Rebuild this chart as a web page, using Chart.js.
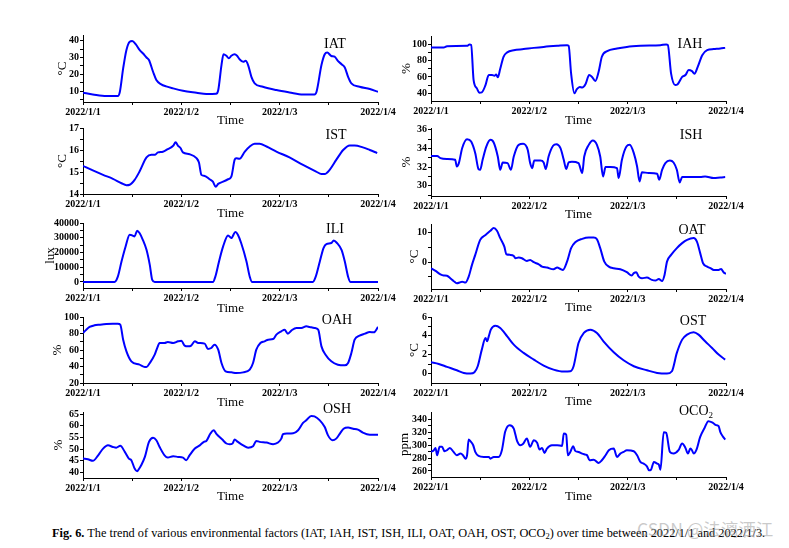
<!DOCTYPE html>
<html><head><meta charset="utf-8">
<script src="https://cdn.jsdelivr.net/npm/chart.js@4.4.0/dist/chart.umd.min.js"></script>
<style>
html,body{margin:0;padding:0;background:#fff;}
body{width:789px;height:548px;position:relative;overflow:hidden;font-family:"Liberation Serif","DejaVu Serif",serif;}
canvas{position:absolute;}
.lbl{position:absolute;font-size:14px;color:#000;transform:translate(-50%,-50%);white-space:nowrap;line-height:1;}
.lbl sub{font-size:9px;vertical-align:-3px;line-height:0;}
#cap{position:absolute;left:52px;top:526px;font-size:12.3px;color:#000;white-space:nowrap;line-height:14px;}
#cap sub{font-size:8.5px;vertical-align:-2px;line-height:0;}
#wm{position:absolute;left:637px;top:520px;font-size:17.5px;color:rgba(150,150,150,0.5);white-space:nowrap;line-height:18px;font-family:"Noto Sans CJK SC","DejaVu Sans",sans-serif;}
</style></head><body>
<script>
// ---------- data ----------
const xTickHours = [0, 12, 24, 36, 48, 60, 72];
const xTickLabels = { 0: '2022/1/1', 24: '2022/1/2', 48: '2022/1/3', 72: '2022/1/4' };

const iatHours = [0,2.4,5.7,8.5,9.0,9.8,10.6,11.4,12.0,12.9,13.8,14.6,15.5,16.1,17.1,17.9,19.1,20.3,22.0,24.4,27.7,30.1,32.5,33.0,33.8,34.3,35.0,35.6,36.2,37.0,37.6,38.2,39.1,39.7,40.3,41.1,41.9,43.9,47.2,50.4,53.7,56.5,57.0,58.2,59.0,59.6,60.6,61.4,62.2,63.1,63.9,64.7,65.5,67.5,70.0,72.0];
const iatValues = [9,8.0,7,7,9.6,23.5,34.5,39.4,39.8,37.8,34.5,32.5,30,28.5,21.5,16.6,14,12.8,11.6,10.2,9,8.2,8.4,10.5,25.5,32,31,29.5,31,31.9,31,29,27.5,28,25.5,18.5,14.6,12.6,10.6,9.2,8,8,9.6,25.5,31.9,33,30.9,30.5,28,26,24,18.5,14.6,12.6,11.2,9.6];
const iatTicks = [5,10,15,20,25,30,35,40];
const iatLabels = [10,20,30,40];

const iahHours = [0,3.1,3.9,8.8,9.4,9.8,10.4,11.2,11.8,12.4,13.3,14.1,14.9,15.5,15.9,16.3,16.9,17.7,18.6,20.2,22.6,25.1,27.5,30.8,33.2,33.6,34.2,35.0,35.6,36.3,36.9,37.7,38.6,39.3,40.1,40.9,41.7,43.0,45.4,47.8,51.1,56.0,57.4,57.8,58.6,59.6,60.2,61.3,62.1,62.9,63.7,64.3,65.1,66.2,67.4,69.0,70.6,71.8];
const iahValues = [96,96,97.6,98,99.6,99,56,46,40.8,41.2,50,62.3,62.3,61.5,63,59.5,70,84.6,90,92.7,94,95.5,96.7,98,98.8,98,64,40,45,47.7,47,51,62.3,60,55,66,84.6,91.5,94.7,96.7,98,98.8,99.6,99,64,50,51,60,62.3,68.4,67,64,72.4,86.6,92.7,94,94.7,95.5];
const iahTicks = [40,50,60,70,80,90,100];
const iahLabels = [40,60,80,100];

const istHours = [0,2.4,4.9,7.3,9.4,10.6,11.4,12.6,13.8,15.5,16.7,17.5,18.3,19.5,20.7,22.0,22.6,23.2,23.8,24.4,26.0,27.7,28.3,28.9,29.7,30.9,31.7,32.4,33.0,34.2,35.4,36.2,37.0,37.4,38.2,39.5,40.7,41.9,43.1,44.8,47.2,50.4,53.7,56.9,58.2,59.0,60.2,61.8,63.5,65.1,66.3,68.3,70.0,71.8];
const istValues = [15.28,15.07,14.87,14.69,14.49,14.4,14.42,14.64,15.02,15.66,15.78,15.78,15.89,15.92,16.04,16.19,16.35,16.19,16.09,15.89,15.81,15.63,15.43,14.87,14.82,14.67,14.56,14.33,14.46,14.56,14.67,14.79,15.55,15.63,15.6,15.93,16.16,16.28,16.28,16.16,15.93,15.66,15.32,15.02,14.91,14.91,15.1,15.55,16.0,16.21,16.21,16.12,16.0,15.86];
const istTicks = [14,14.5,15,15.5,16,16.5,17];
const istLabels = [14,15,16,17];

const ishHours = [0,1.5,2.3,3.9,5.9,6.3,6.8,7.6,8.8,9.8,10.8,11.6,12.0,12.6,13.5,14.5,15.3,16.3,16.9,17.5,18.7,19.5,20.2,21.4,22.5,23.6,24.2,24.7,25.2,26.7,27.5,28.0,28.7,29.8,30.6,31.6,32.4,33.0,33.6,34.4,36.0,36.9,37.4,38.5,39.5,40.5,41.3,42.0,42.6,43.8,45.4,45.8,46.6,47.7,48.5,49.5,50.3,50.9,51.5,53.1,55.2,55.7,56.4,57.2,58.3,59.2,60.0,60.7,61.3,63.3,65.7,66.9,69.0,70.6,71.8];
const ishValues = [33.2,33.2,32.96,32.86,32.79,32.07,32.43,34.03,35,34.75,33.5,31.79,31.71,32.79,34.21,34.93,34.64,33.14,31.71,32.5,32.43,31.71,33.14,34.39,34.5,33.86,32.43,31.89,32.71,32.71,32.5,31.79,33.14,34.29,34.46,34.04,32.79,31.79,32.5,32.57,32.43,31.36,33.14,34.39,34.86,34.39,33.14,31.0,32,32,31.89,30.82,32.79,34.21,34.39,33.5,32.07,30.46,31.46,31.36,31.29,30.64,31.71,32.43,32.71,32.5,31.71,30.36,30.93,30.93,30.93,31.0,30.82,30.89,30.93];
const ishTicks = [29,30,31,32,33,34,35,36];
const ishLabels = [30,32,34,36];

const iliHours = [0,7.7,8.5,9.4,10.4,11.4,12.0,12.6,13.2,13.8,14.6,15.5,16.3,16.9,17.5,31.7,32.3,33.2,34.2,35.4,36.2,37.2,37.8,38.6,39.9,40.7,41.3,56.1,56.8,57.8,58.7,59.4,60.6,61.2,62.0,63.1,63.9,64.7,65.3,72];
const iliValues = [0,0,3600,13900,24100,32000,31600,30900,34800,33200,28600,21800,11600,1400,0,0,3600,13900,24100,31600,29800,33900,32000,26400,13900,3600,0,0,3600,13900,23000,25700,26400,28200,26400,21800,13900,3600,0,0];
const iliTicks = [0,5000,10000,15000,20000,25000,30000,35000,40000];
const iliLabels = [0,10000,20000,30000,40000];

const oatHours = [0,1.1,2.3,3.1,3.9,4.7,5.5,6.3,7.0,7.6,8.4,9.2,10.0,10.8,12.0,13.3,14.5,15.3,16.1,16.9,17.9,18.4,19.4,20.2,20.6,21.4,22.2,23.4,24.2,25.1,26.3,27.1,28.3,29.9,30.8,31.6,32.2,33.2,34.2,35.2,36.9,38.5,39.7,40.5,41.3,42.3,43.4,44.6,46.2,47.8,49.0,49.5,50.1,50.7,51.5,52.7,53.9,54.8,55.6,56.4,57.0,57.6,58.6,60.0,61.3,62.5,64.1,64.9,65.7,66.4,67.4,68.2,69.0,70.2,70.8,71.4,72.0];
const oatValues = [-2.05,-2.95,-4.1,-4.5,-4.6,-5.45,-6.36,-7.16,-6.9,-6.6,-6.9,-4.9,-0.9,2.5,7.6,9.3,10.7,11.6,10.7,8.2,5.3,2.7,2.5,2.16,1.36,1.6,1.36,0.45,0.8,0,-0.7,-1.5,-1.8,-2.4,-1.8,-2.3,-2.6,0.2,4.8,6.8,7.95,8.4,8.4,7.8,4.8,0.2,-1.5,-2.05,-2.4,-3.4,-4.5,-3.7,-3.4,-4.9,-5.45,-5.2,-6.0,-6.2,-5.7,-6.36,-4.3,0.2,2.5,4.8,6.5,7.6,8.2,7.0,3.1,-0.34,-1.5,-2.0,-2.6,-2.6,-2.3,-3.4,-4];
const oatTicks = [-5,0,5,10];
const oatLabels = [0,10];

const oahHours = [0,0.8,1.6,2.8,4.1,5.7,7.3,8.5,9.1,9.8,10.6,11.8,13.8,15.1,15.5,16.3,17.5,18.1,18.7,19.9,20.7,22.0,23.2,24.0,24.8,25.6,26.4,27.3,28.1,29.7,30.5,31.3,32.1,33.0,33.8,34.8,36.2,37.4,39.1,40.7,41.5,42.3,43.3,44.3,45.2,46.4,47.2,48.4,49.2,50.0,50.9,52.1,53.3,54.5,55.3,56.5,57.4,58.2,59.2,60.6,62.2,63.9,64.7,65.5,66.3,67.5,68.8,70.0,71.0,72.0];
const oahValues = [80.6,84.6,87.9,89.9,90.7,91.5,91.9,91.9,90.7,72.5,58.4,46.3,42.2,39.4,39.4,44.2,54.3,62.4,68.5,68.5,69.7,68.5,70.5,71.3,65.3,64.4,65.3,70.5,68.5,67.7,61.2,62.4,66.5,60.4,44.2,34.1,32.9,32.1,32.9,36.2,44.2,60.4,68.5,70.5,72.5,73.3,78.6,82.6,84.6,79.8,83.8,86.7,86.7,88.7,87.9,86.7,84.6,64.4,54.3,46.3,42.2,41.4,44.2,56.4,72.5,77.4,79.8,81.8,81.5,87.9];
const oahTicks = [20,30,40,50,60,70,80,90,100];
const oahLabels = [20,40,60,80,100];

const ostHours = [0,1.9,3.9,6.3,8.0,9.6,10.6,11.4,12.4,13.3,13.7,14.1,14.6,15.7,16.9,18.6,20.2,22.6,25.1,27.5,29.9,32.4,34.0,34.8,36.0,37.3,38.9,40.5,42.1,44.6,47.0,49.5,52.7,55.2,57.6,58.8,60.0,61.3,62.5,64.1,65.3,66.9,68.6,70.2,71.8];
const ostValues = [1.2,1.02,0.71,0.35,0.07,0,0.14,0.78,2.54,3.78,3.42,3.95,4.66,5.08,4.84,3.95,3.07,2.19,1.48,0.85,0.42,0.21,0.25,0.78,3.25,4.31,4.66,4.31,3.42,2.26,1.41,0.78,0.35,0.07,0,0.25,2.19,3.6,4.13,4.38,4.13,3.42,2.72,2.01,1.48];
const ostTicks = [0,1,2,3,4,5,6];
const ostLabels = [0,2,4,6];

const oshHours = [0,1.2,2.4,3.7,4.9,6.1,7.3,8.1,9.1,10.2,11.2,11.8,12.6,13.2,13.7,14.2,15.1,16.1,17.1,17.9,18.7,19.9,20.7,22.0,23.2,24.4,25.2,26.0,27.3,28.5,29.5,30.1,31.1,31.9,32.5,34.0,35.0,35.8,36.5,37.0,37.8,39.1,40.3,41.5,42.3,43.1,44.8,46.4,47.6,48.4,48.8,49.8,51.3,52.5,53.7,54.5,55.7,56.5,57.8,59.0,59.8,60.9,61.8,62.7,63.6,64.7,65.9,67.1,68.3,70.0,72.0];
const oshValues = [45.9,45.6,44.9,47.3,50.2,51.6,50.9,50.6,51.4,48.8,45.9,45.2,41.6,40.4,41.5,43,46.6,53.1,54.9,53.8,50.9,47.3,46.3,46.9,46.6,46.3,45.2,47.3,50.2,51.6,53.1,53.5,56.7,58.1,56.7,54.1,52.4,52.1,52.4,54.1,53.1,51.6,50.6,51.2,53.5,53.1,52.8,52.1,52.8,54.5,56.4,56.7,56.8,58.1,61.3,62.4,64.3,64.1,62.4,59.5,55.9,53.8,54.5,56.7,58.8,59.3,58.8,58.4,57.1,56.2,56.2];
const oshTicks = [40,45,50,55,60,65];
const oshLabels = [40,45,50,55,60,65];

const oco2Hours = [0,0.7,1.1,1.5,2.1,2.7,3.3,3.9,4.6,5.5,6.3,7.2,7.8,8.4,8.8,9.2,9.6,10.3,10.8,11.6,12.9,14.1,14.5,15.3,16.5,17.3,18.1,19.2,20.2,21.0,21.8,22.5,23.4,24.2,25.1,25.9,26.5,27.1,27.7,28.3,29.5,30.8,32.0,32.4,33.0,33.4,34.0,34.7,35.2,36.0,36.9,37.7,38.1,38.7,39.7,40.9,41.7,42.6,43.4,44.6,45.4,46.2,47.0,47.8,49.5,50.3,51.1,51.9,52.7,53.2,53.7,54.4,55.2,55.6,56.0,56.8,57.4,58.3,59.2,60.4,61.3,62.1,62.7,63.3,63.7,64.1,64.8,65.7,66.7,67.7,68.8,69.6,70.2,70.6,71.3,71.8];
const oco2Values = [289.4,292,295.6,284.3,297.2,297.2,290.5,292,295.6,289.4,284.3,286.8,284.3,279,284.3,308.5,306,299.7,289.4,283.2,281.7,281.7,279,281.7,281.7,292,320.4,330.7,325.5,306.4,299.7,302,310,297.2,307.5,303.4,293,295.6,287.9,294.6,299.7,299.7,298.7,317.8,316.2,284.3,289.4,298.2,291,289.4,286.8,285.3,284.3,276.5,277.5,272.4,276.5,284.3,292,294.6,281.7,286.8,289.4,292,290.5,284.3,273.9,271.4,267.2,261,262,274,271.4,270,262,319.9,318.8,289.4,286.8,292,302.3,295.6,286.8,294.6,292,286.8,293,312.6,325.5,336.9,334.3,330.7,329.2,320.4,312.6,308.5];
const oco2Ticks = [260,270,280,290,300,310,320,330,340];
const oco2Labels = [260,280,300,320,340];

// ---------- panel layout (positions in page px) ----------
const FONT = '"Liberation Serif","Times New Roman",serif';
const panels = [
  {name:'IAT', unit:'°C', hours:iatHours, values:iatValues, ticks:iatTicks, labels:iatLabels, min:3.5, max:43.4, axisX:83, xEnd:378, top:35, bottom:102, unitX:63, timeY:120, lblX:335, lblY:44, lblHtml:'IAT'},
  {name:'IAH', unit:'%', hours:iahHours, values:iahValues, ticks:iahTicks, labels:iahLabels, min:30.6, max:110, axisX:431, xEnd:726, top:36, bottom:101, unitX:407, timeY:120, lblX:690, lblY:44, lblHtml:'IAH'},
  {name:'IST', unit:'°C', hours:istHours, values:istValues, ticks:istTicks, labels:istLabels, min:14, max:17, axisX:83, xEnd:378, top:128, bottom:194, unitX:63, timeY:213, lblX:336, lblY:135, lblHtml:'IST'},
  {name:'ISH', unit:'%', hours:ishHours, values:ishValues, ticks:ishTicks, labels:ishLabels, min:28.9, max:36.2, axisX:431, xEnd:726, top:128, bottom:196, unitX:407, timeY:214, lblX:691, lblY:135, lblHtml:'ISH'},
  {name:'ILI', unit:'lux', hours:iliHours, values:iliValues, ticks:iliTicks, labels:iliLabels, min:-4090, max:40000, axisX:83, xEnd:378, top:223, bottom:288, unitX:51, timeY:308, lblX:335, lblY:229, lblHtml:'ILI'},
  {name:'OAT', unit:'°C', hours:oatHours, values:oatValues, ticks:oatTicks, labels:oatLabels, min:-9.1, max:13, axisX:431, xEnd:726, top:224, bottom:289, unitX:415, timeY:307, lblX:692, lblY:230, lblHtml:'OAT'},
  {name:'OAH', unit:'%', hours:oahHours, values:oahValues, ticks:oahTicks, labels:oahLabels, min:20, max:100, axisX:83, xEnd:378, top:317, bottom:383, unitX:58, timeY:402, lblX:337, lblY:320, lblHtml:'OAH'},
  {name:'OST', unit:'°C', hours:ostHours, values:ostValues, ticks:ostTicks, labels:ostLabels, min:-1, max:6, axisX:431, xEnd:726, top:317, bottom:383, unitX:415, timeY:401, lblX:693, lblY:321, lblHtml:'OST'},
  {name:'OSH', unit:'%', hours:oshHours, values:oshValues, ticks:oshTicks, labels:oshLabels, min:37.5, max:66, axisX:83, xEnd:378, top:412, bottom:478, unitX:59, timeY:496, lblX:337, lblY:409, lblHtml:'OSH'},
  {name:'OCO2', unit:'ppm', hours:oco2Hours, values:oco2Values, ticks:oco2Ticks, labels:oco2Labels, min:250.7, max:351, axisX:431, xEnd:726, top:412, bottom:477, unitX:405, timeY:496, lblX:696, lblY:411, lblHtml:'OCO<sub>2</sub>'}
];

const TITLE_SIZE = 13;
const HALF_LINE = TITLE_SIZE * 1.2 / 2;
const PAD_TOP = 8, PAD_RIGHT = 25;

panels.forEach(p => {
  const left = Math.round(p.unitX - HALF_LINE);
  const top = p.top - PAD_TOP;
  const bottomEdge = Math.round(p.timeY + HALF_LINE);
  const W = p.xEnd + PAD_RIGHT - left;
  const H = bottomEdge - top;
  const yW = p.axisX - left;
  const xH = bottomEdge - p.bottom;

  const cv = document.createElement('canvas');
  cv.width = W; cv.height = H;
  cv.style.left = left + 'px'; cv.style.top = top + 'px';
  cv.style.width = W + 'px'; cv.style.height = H + 'px';
  document.body.appendChild(cv);

  new Chart(cv, {
    type: 'line',
    data: {
      datasets: [{
        data: p.hours.map((h, i) => ({ x: h, y: p.values[i] })),
        borderColor: '#0000ff', borderWidth: 2, pointRadius: 0, fill: false,
        cubicInterpolationMode: 'monotone'
      }]
    },
    options: {
      responsive: false, animation: false, devicePixelRatio: 1,
      layout: { padding: { top: PAD_TOP, right: PAD_RIGHT, left: 0, bottom: 0 } },
      plugins: { legend: { display: false }, tooltip: { enabled: false } },
      scales: {
        x: {
          type: 'linear', min: 0, max: 72,
          afterBuildTicks: s => { s.ticks = xTickHours.map(v => ({ value: v })); },
          afterFit: s => { s.height = xH; },
          ticks: { autoSkip: false, maxRotation: 0, minRotation: 0, padding: 1, color: '#000',
                   font: { family: FONT, size: 10, weight: 'bold' },
                   callback: v => xTickLabels[v] || '' },
          grid: { display: true, drawOnChartArea: false, drawTicks: true, tickLength: 3, color: '#000', lineWidth: 1 },
          border: { display: true, color: '#000', width: 1 },
          title: { display: true, text: 'Time', color: '#000', padding: 0, font: { family: FONT, size: TITLE_SIZE, lineHeight: 1.2 } }
        },
        y: {
          type: 'linear', min: p.min, max: p.max,
          afterBuildTicks: s => { s.ticks = p.ticks.map(v => ({ value: v })); },
          afterFit: s => { s.width = yW; },
          ticks: { autoSkip: false, padding: 1, color: '#000',
                   font: { family: FONT, size: 10, weight: 'bold' },
                   callback: v => p.labels.indexOf(v) >= 0 ? String(v) : '' },
          grid: { display: true, drawOnChartArea: false, drawTicks: true, tickLength: 3, color: '#000', lineWidth: 1 },
          border: { display: true, color: '#000', width: 1 },
          title: { display: true, text: p.unit, color: '#000', padding: 0, font: { family: FONT, size: TITLE_SIZE, lineHeight: 1.2 } }
        }
      }
    }
  });

  const d = document.createElement('div');
  d.className = 'lbl';
  d.style.left = p.lblX + 'px'; d.style.top = p.lblY + 'px';
  d.innerHTML = p.lblHtml;
  document.body.appendChild(d);
});

const cap = document.createElement('div');
cap.id = 'cap';
cap.innerHTML = '<b>Fig. 6.</b> The trend of various environmental factors (IAT, IAH, IST, ISH, ILI, OAT, OAH, OST, OCO<sub>2</sub>) over time between 2022/1/1 and 2022/1/3.';
document.body.appendChild(cap);
const wm = document.createElement('div');
wm.id = 'wm';
wm.textContent = 'CSDN @法漓洒江';
document.body.appendChild(wm);
</script>
</body></html>
